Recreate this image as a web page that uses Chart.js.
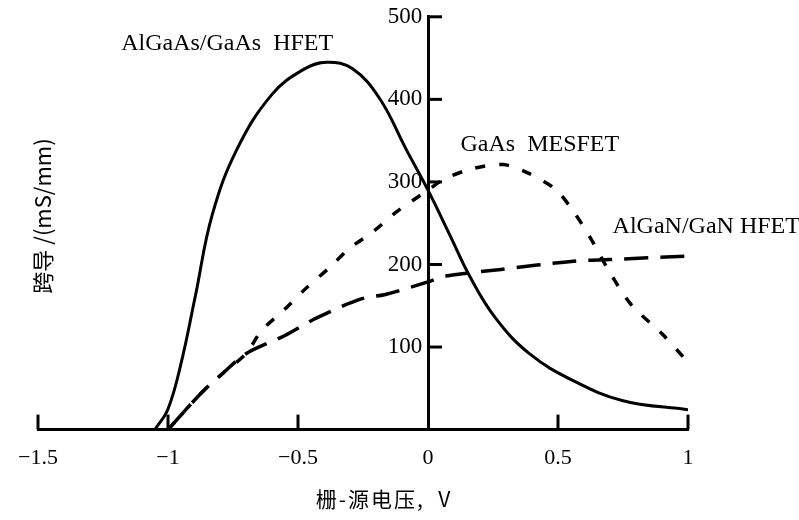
<!DOCTYPE html>
<html>
<head>
<meta charset="utf-8">
<script src="https://cdn.jsdelivr.net/npm/chart.js@4.4.1/dist/chart.umd.min.js"></script>
<style>
  html, body { margin: 0; padding: 0; background: #fff; }
</style>
</head>
<body>
<canvas id="chart" width="799" height="520"></canvas>
<script>
// gate-source voltage (V) and transconductance (mS/mm)
const hfetGaAsX = [-1.05, -1.0, -0.95, -0.896, -0.83, -0.734, -0.60, -0.48, -0.39, -0.29, -0.186, -0.085, 0, 0.085, 0.16, 0.26, 0.39, 0.56, 0.75, 1.0]
const hfetGaAsY = [0, 25, 80, 160, 260, 340, 406, 436, 445, 437, 401, 340, 290, 235, 186, 135, 92, 59, 35, 24]

const mesfetX = [-1.0, -0.87, -0.79, -0.70, -0.64, -0.55, -0.47, -0.38, -0.30, -0.21, -0.12, 0, 0.06, 0.17, 0.29, 0.39, 0.49, 0.56, 0.625, 0.70, 0.78, 0.90, 0.985]
const mesfetY = [0, 45, 68, 92, 120, 146, 171, 196, 220, 240, 264, 290, 303, 316, 321, 310, 291, 264, 232, 190, 152, 116, 87]

const hfetGaNX = [-1.0, -0.87, -0.79, -0.70, -0.55, -0.43, -0.26, -0.16, 0, 0.07, 0.28, 0.56, 0.70, 0.99]
const hfetGaNY = [0, 45, 68, 92, 114, 135, 158, 164, 179, 186, 194, 204, 206, 210]

const xTickValues = [-1.5, -1, -0.5, 0, 0.5, 1]
const xTickLabels = ['−1.5', '−1', '−0.5', '0', '0.5', '1']
const yTickValues = [100, 200, 300, 400, 500]

const curveNames = ['AlGaAs/GaAs  HFET', 'GaAs  MESFET', 'AlGaN/GaN HFET']
const nameX = [-1.18, 0.125, 0.71]
const nameY = [468, 345, 246]

const toPoints = (xs, ys) => xs.map((v, i) => ({ x: v, y: ys[i] }))

const serif = '"Liberation Serif", "Noto Sans CJK SC", serif'

const extras = {
  id: 'extras',
  afterDraw(chart) {
    const { ctx, scales: { x, y } } = chart
    ctx.save()
    ctx.strokeStyle = '#000'
    ctx.lineWidth = 3
    const x0 = x.getPixelForValue(0)
    const yb = y.getPixelForValue(0)
    // inward tick marks
    yTickValues.forEach(v => {
      const py = y.getPixelForValue(v)
      ctx.beginPath(); ctx.moveTo(x0, py); ctx.lineTo(x0 + 14, py); ctx.stroke()
    })
    xTickValues.forEach(v => {
      if (v === 0) return
      const px = x.getPixelForValue(v)
      ctx.beginPath(); ctx.moveTo(px, yb); ctx.lineTo(px, yb - 15); ctx.stroke()
    })
    // curve names
    ctx.fillStyle = '#000'
    ctx.font = '24px ' + serif
    ctx.textAlign = 'left'
    ctx.textBaseline = 'middle'
    curveNames.forEach((t, i) => {
      ctx.fillText(t, x.getPixelForValue(nameX[i]), y.getPixelForValue(nameY[i]))
    })
    // x axis title
    ctx.textAlign = 'center'
    ctx.font = '21px "Noto Sans CJK SC"'
    ctx.letterSpacing = '2px'
    ctx.fillText('栅-源电压,  V', 384, 499)
    // y axis title
    ctx.letterSpacing = '0px'
    ctx.translate(43, 216)
    ctx.rotate(-Math.PI / 2)
    ctx.font = '22px "Noto Sans CJK SC"'
    ctx.fillText('跨导 /(mS/mm)', 0, 0)
    ctx.restore()
  }
}

new Chart(document.getElementById('chart'), {
  type: 'scatter',
  data: {
    datasets: [
      {
        label: curveNames[0],
        data: toPoints(hfetGaAsX, hfetGaAsY),
        showLine: true,
        borderColor: '#000',
        borderWidth: 3,
        pointRadius: 0,
        tension: 0.4
      },
      {
        label: curveNames[1],
        data: toPoints(mesfetX, mesfetY),
        showLine: true,
        borderColor: '#000',
        borderWidth: 3.5,
        borderDash: [10, 14],
        pointRadius: 0,
        tension: 0.3
      },
      {
        label: curveNames[2],
        data: toPoints(hfetGaNX, hfetGaNY),
        showLine: true,
        borderColor: '#000',
        borderWidth: 3.5,
        borderDash: [24, 12],
        pointRadius: 0,
        tension: 0.3
      }
    ]
  },
  options: {
    responsive: false,
    animation: false,
    layout: { padding: { left: 38, right: 111, top: 15, bottom: 34 } },
    plugins: {
      legend: { display: false },
      tooltip: { enabled: false }
    },
    scales: {
      x: {
        type: 'linear',
        min: -1.5,
        max: 1,
        afterBuildTicks: scale => { scale.ticks = xTickValues.map(v => ({ value: v })) },
        ticks: {
          color: '#000',
          font: { family: serif, size: 22 },
          padding: 15,
          callback: v => xTickLabels[xTickValues.indexOf(v)]
        },
        grid: { display: false, drawTicks: false },
        border: { display: true, color: '#000', width: 3 }
      },
      y: {
        type: 'linear',
        min: 0,
        max: 500,
        position: { x: 0 },
        afterBuildTicks: scale => { scale.ticks = [0].concat(yTickValues).map(v => ({ value: v })) },
        ticks: {
          color: '#000',
          font: { family: serif, size: 23 },
          callback: v => v === 0 ? '' : v + ' '
        },
        grid: { display: false, drawTicks: false },
        border: { display: true, color: '#000', width: 3 }
      }
    }
  },
  plugins: [extras]
})
</script>
</body>
</html>
